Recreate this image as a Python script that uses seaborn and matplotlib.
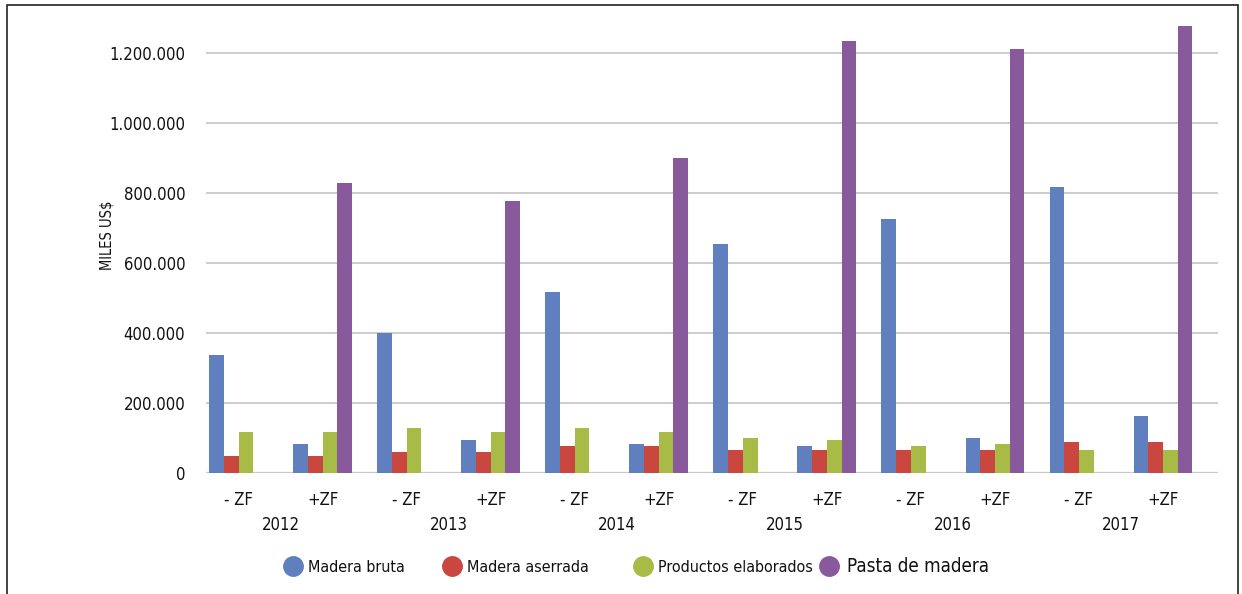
import matplotlib
matplotlib.use("Agg")
import matplotlib.pyplot as plt
import matplotlib.transforms as mtransforms
from matplotlib import font_manager
from matplotlib.lines import Line2D
from matplotlib.patches import Rectangle
from matplotlib.ticker import FuncFormatter
import seaborn as sns
import pandas as pd

# Data (miles US$)
years = ["2012", "2013", "2014", "2015", "2016", "2017"]
zones = ["- ZF", "+ZF"]
series = ["Madera bruta", "Madera aserrada", "Productos elaborados", "Pasta de madera"]

# order: 2012 -ZF, 2012 +ZF, 2013 -ZF, 2013 +ZF, ...
madera_bruta = [338000, 84000, 402000, 95000, 518000, 84000, 656000, 78000, 726000, 101000, 817000, 164000]
madera_aserrada = [49000, 49000, 61000, 61000, 78000, 78000, 67000, 67000, 67000, 67000, 89000, 89000]
productos_elaborados = [118000, 118000, 129000, 118000, 129000, 118000, 101000, 95000, 78000, 84000, 67000, 67000]
pasta_madera = [None, 830000, None, 778000, None, 900000, None, 1236000, None, 1213000, None, 1279000]

colors = ["#5F7FBF", "#C9473F", "#A9BB47", "#885A9B"]
y_ticks = [0, 200000, 400000, 600000, 800000, 1000000, 1200000]

# Long table for seaborn
categories = [f"{y} {z}" for y in years for z in zones]
rows = []
for name, vals in zip(series, [madera_bruta, madera_aserrada, productos_elaborados, pasta_madera]):
    for cat, v in zip(categories, vals):
        rows.append({"cat": cat, "serie": name, "valor": v})
df = pd.DataFrame(rows).dropna()

sns.set_style("white")
plt.rcParams['font.family'] = ['DejaVu Sans']
plt.rcParams['font.stretch'] = 'condensed'
# use the condensed cut if it is installed, else shrink the text a bit
cond = "Condensed" in font_manager.findfont(
    font_manager.FontProperties(family="DejaVu Sans", stretch="condensed"))
fs = 12 if cond else 10.5
fs_leg = 11.5 if cond else 10
fs_big = 13.5 if cond else 12

W, H = 1242, 594
fig = plt.figure(figsize=(W / 100, H / 100), dpi=100)
ax = fig.add_axes([206 / W, (H - 473.3) / H, (1218 - 206) / W, 455 / H])

sns.barplot(data=df, x="cat", y="valor", hue="serie", order=categories, hue_order=series,
            palette=colors, saturation=1, width=0.7, errorbar=None, linewidth=0, ax=ax,
            legend=False, zorder=3)

ax.set_ylim(0, 1300000)
ax.set_xlim(-0.387, 11.654)
ax.set_yticks(y_ticks)
ax.yaxis.set_major_formatter(FuncFormatter(lambda v, p: f"{int(v):,}".replace(",", ".")))
ax.grid(axis="y", color="#C8C8C8", lw=1.3, zorder=0)
ax.grid(axis="x", visible=False)
for s in ax.spines.values():
    s.set_visible(False)
ax.axhline(0, color="#C8C8C8", lw=1.6, zorder=2)

ax.set_xticks(range(len(categories)))
ax.set_xticklabels(zones * len(years))
ax.tick_params(axis="x", length=0, pad=13, labelsize=fs, colors="#111111")
ax.tick_params(axis="y", length=0, pad=15, labelsize=fs, colors="#111111")
ax.set_xlabel("")
ax.set_ylabel("")

fig.text(107 / W, (H - 235) / H, "MILES US$", rotation=90, ha="center", va="center",
         fontsize=fs - 1.5, color="#111111")

# year labels under each pair
trans = mtransforms.blended_transform_factory(ax.transData, fig.transFigure)
for i, y in enumerate(years):
    ax.text(2 * i + 0.5, (H - 524.5) / H, y, transform=trans, ha="center", va="center",
            fontsize=fs, color="#111111")

# legend: one small legend per entry so the circles sit where they do in the original
circle_x = [293, 452, 643, 829]
for c, name, cx, size in zip(colors, series, circle_x, [fs_leg] * 3 + [fs_big]):
    h = Line2D([], [], marker="o", ls="", markersize=14, markerfacecolor=c, markeredgecolor=c)
    hl = 1.0
    x0 = cx - hl * size * 100 / 72 / 2
    lg = fig.legend([h], [name], loc="center left", bbox_to_anchor=(x0 / W, (H - 567) / H),
                    frameon=False, fontsize=size, handlelength=hl, handletextpad=0.45,
                    borderpad=0, borderaxespad=0)
    lg.get_texts()[0].set_color("#111111")

# outer border
fig.patches.append(Rectangle((7 / W, -0.1), (1238 - 7) / W, (H - 5) / H + 0.1,
                             transform=fig.transFigure, fill=False, lw=1.2, ec="#222222"))

fig.savefig("out.png", dpi=100)
